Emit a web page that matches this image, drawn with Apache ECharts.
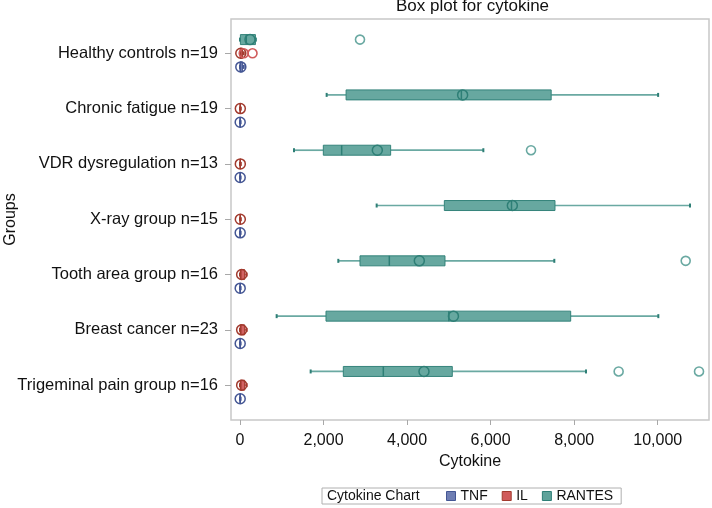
<!DOCTYPE html>
<html><head><meta charset="utf-8">
<script src="https://cdn.jsdelivr.net/npm/echarts@6/dist/echarts.min.js"></script>
<style>html,body{margin:0;padding:0;background:#fff}#c{width:712px;height:508px}</style>
</head><body><div id="c"></div>
<script>
const categories = ['Healthy controls n=19', 'Chronic fatigue n=19', 'VDR dysregulation n=13', 'X-ray group n=15', 'Tooth area group n=16', 'Breast cancer n=23', 'Trigeminal pain group n=16'];
// each row: [min, q1, median, q3, max, mean]
const tnfStats = [
  [0, 0, 10, 60, 90, 20],
  [1, 2, 4, 8, 15, 5],
  [1, 2, 4, 8, 15, 5],
  [1, 2, 4, 8, 15, 5],
  [1, 2, 4, 8, 15, 5],
  [1, 2, 4, 8, 15, 5],
  [1, 2, 4, 8, 15, 5]
];
const ilStats = [
  [0, 5, 15, 60, 90, 20],
  [1, 3, 6, 12, 20, 8],
  [1, 3, 6, 12, 20, 8],
  [1, 3, 6, 12, 20, 8],
  [0, 5, 20, 110, 160, 40],
  [0, 5, 20, 110, 160, 40],
  [0, 5, 20, 110, 160, 40]
];
const rantesStats = [
  [0, 10, 150, 370, 380, 240],
  [2075, 2540, 5300, 7450, 10010, 5330],
  [1293, 1995, 2434, 3607, 5826, 3288],
  [3272, 4892, 6500, 7541, 10773, 6520],
  [2354, 2873, 3575, 4908, 7525, 4293],
  [878, 2059, 5000, 7917, 10015, 5110],
  [1692, 2474, 3431, 5083, 8284, 4405]
];
// [category index, value]
const rantesOutliers = [[0, 2873], [2, 6967], [4, 10670], [6, 9065], [6, 10989]];
const ilOutliers = [[0, 90], [0, 300]];
const xTicks = [0, 2000, 4000, 6000, 8000, 10000];
const yTicks = [0, 1, 2, 3, 4, 5, 6];

const FONT = 'Liberation Sans, Arial, sans-serif';
const colors = {
  TNF: { fill: '#6F7EB3', line: '#445694', whisker: '#6F7EB3' },
  IL: { fill: '#D05B5B', line: '#A23A2E', whisker: '#D05B5B' },
  RANTES: { fill: '#5FA39B', line: '#2E7F76', whisker: '#6AA9A2' }
};
const offsets = { TNF: 13.6, IL: 0, RANTES: -13.7 };

function boxSeries(name, stats) {
  const c = colors[name], off = offsets[name];
  return {
    type: 'custom', name: name,
    data: stats.map((s, i) => [i].concat(s)),
    encode: { x: [1, 2, 3, 4, 5, 6], y: 0 },
    itemStyle: { color: c.fill },
    renderItem: function (params, api) {
      const cat = api.value(0);
      const px = k => api.coord([api.value(k), cat])[0];
      const y = api.coord([0, cat])[1] + off;
      const x0 = px(1), x1 = px(2), xm = px(3), x3 = px(4), x4 = px(5), xmean = px(6);
      const h = 10;
      return {
        type: 'group', children: [
          { type: 'line', shape: { x1: x0, y1: y, x2: x1, y2: y }, style: { stroke: c.whisker, lineWidth: 1.7 } },
          { type: 'line', shape: { x1: x3, y1: y, x2: x4, y2: y }, style: { stroke: c.whisker, lineWidth: 1.7 } },
          { type: 'line', shape: { x1: x0, y1: y - 2, x2: x0, y2: y + 2 }, style: { stroke: c.line, lineWidth: 2 } },
          { type: 'line', shape: { x1: x4, y1: y - 2, x2: x4, y2: y + 2 }, style: { stroke: c.line, lineWidth: 2 } },
          { type: 'rect', shape: { x: x1, y: y - h / 2, width: Math.max(x3 - x1, 0.1), height: h },
            style: { fill: c.fill, stroke: c.line, lineWidth: 1, opacity: 0.95 } },
          { type: 'line', shape: { x1: xm, y1: y - h / 2, x2: xm, y2: y + h / 2 }, style: { stroke: c.line, lineWidth: 1.5 } },
          { type: 'circle', shape: { cx: xmean, cy: y, r: 5 }, style: { fill: 'none', stroke: c.line, lineWidth: 1.5 } }
        ]
      };
    }
  };
}

function outlierSeries(name, pts, key) {
  return {
    type: 'scatter', name: name, silent: true,
    data: pts.map(p => [p[1], p[0]]),
    symbol: 'circle', symbolSize: 9, symbolOffset: [0, offsets[key]],
    itemStyle: { color: 'rgba(255,255,255,0)', borderColor: colors[key].whisker, borderWidth: 1.6, opacity: 1 }
  };
}

const chart = echarts.init(document.getElementById('c'), null, { renderer: 'canvas' });
chart.setOption({
  animation: false,
  backgroundColor: '#fff',
  textStyle: { fontFamily: FONT },
  title: [
    { text: 'Box plot for cytokine', left: 396, top: -2, padding: 0,
      textStyle: { fontFamily: FONT, fontSize: 17, fontWeight: 'normal', color: '#111' } },
    { text: 'Cytokine Chart', left: 327, top: 489, padding: 0,
      textStyle: { fontFamily: FONT, fontSize: 14, fontWeight: 'normal', color: '#111' } }
  ],
  legend: {
    left: 322, top: 488, padding: [1, 8, 1, 124], itemGap: 14,
    borderColor: '#b0b0b0', borderWidth: 1,
    itemWidth: 9, itemHeight: 9,
    textStyle: { fontFamily: FONT, fontSize: 14, color: '#111' },
    data: ['TNF', 'IL', 'RANTES'].map(n => ({ name: n, icon: 'rect',
      itemStyle: { color: colors[n].fill, borderColor: colors[n].line, borderWidth: 1 } }))
  },
  grid: { left: 231, top: 19, right: 3, bottom: 88, show: true, borderColor: '#c8c8c8', borderWidth: 1.5,
    containLabel: false, outerBoundsMode: 'none' },
  xAxis: {
    type: 'value', min: -215, max: 11228,
    name: 'Cytokine', nameLocation: 'middle', nameGap: 34, nameMoveOverlap: false,
    nameTextStyle: { fontFamily: FONT, fontSize: 16, color: '#111' },
    axisLine: { show: false, onZero: false },
    axisTick: { show: true, customValues: xTicks, length: 5, lineStyle: { color: '#a8a8a8' } },
    axisLabel: { customValues: xTicks, margin: 13, fontFamily: FONT, fontSize: 16, color: '#111',
      formatter: v => Number(v).toLocaleString('en-US') },
    splitLine: { show: false }
  },
  yAxis: {
    type: 'value', min: -0.62, max: 6.63, inverse: true,
    name: 'Groups', nameLocation: 'middle', nameGap: 212, nameRotate: 90, nameMoveOverlap: false,
    nameTextStyle: { fontFamily: FONT, fontSize: 16, color: '#111' },
    axisLine: { show: false, onZero: false },
    axisTick: { show: true, customValues: yTicks, length: 6, lineStyle: { color: '#a8a8a8' } },
    axisLabel: { customValues: yTicks, margin: 13, fontFamily: FONT, fontSize: 16.5, color: '#111',
      formatter: v => categories[Math.round(v)] },
    splitLine: { show: false }
  },
  series: [
    boxSeries('TNF', tnfStats),
    boxSeries('IL', ilStats),
    boxSeries('RANTES', rantesStats),
    outlierSeries('IL outliers', ilOutliers, 'IL'),
    outlierSeries('RANTES outliers', rantesOutliers, 'RANTES')
  ]
});
</script></body></html>
